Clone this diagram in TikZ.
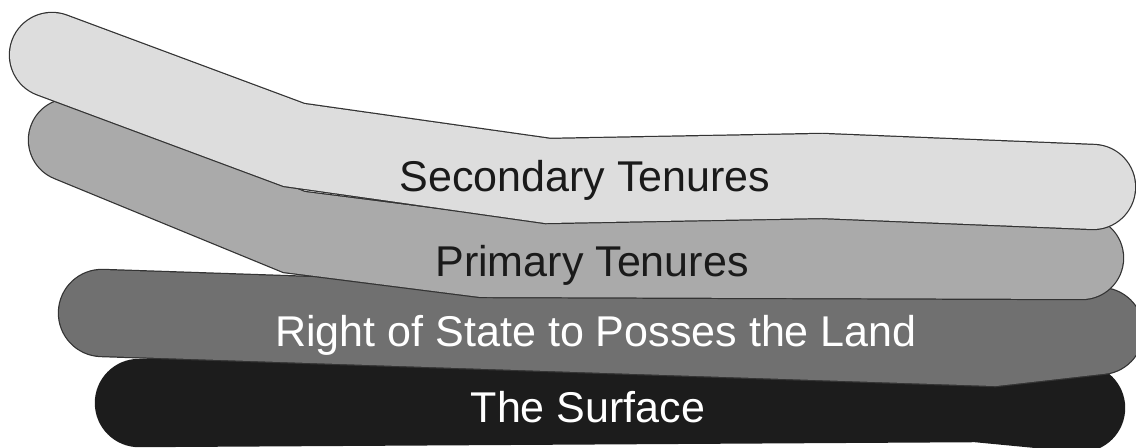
\documentclass[tikz,border=0pt]{standalone}
\usepackage{fontspec}
\setmainfont{Liberation Sans}

\definecolor{secgray}{HTML}{DDDDDD}
\definecolor{primgray}{HTML}{AAAAAA}
\definecolor{stategray}{HTML}{707070}
\definecolor{surfgray}{HTML}{1C1C1C}
\definecolor{edgegray}{HTML}{333333}
\definecolor{textgray}{HTML}{1A1A1A}

\begin{document}
\begin{tikzpicture}[x=0.02cm,y=-0.02cm,
    band/.style={line width=0.7pt, line cap=round, line join=miter, double distance=#1},
    bandtext/.style={font=\fontsize{24.5}{28}\selectfont, anchor=base}]
            \useasboundingbox (0,0) rectangle (1136,448);
            \clip (0,0) rectangle (1136,448);
            % centre lines of the bands
            \coordinate (surf-l) at (139,403);
            \coordinate (surf-k) at (977,398);
            \coordinate (surf-r) at (1081,408);
            \coordinate (state-l) at (102,313);
            \coordinate (state-k) at (994,343);
            \coordinate (state-r) at (1100,331);
            \coordinate (prim-l) at (70,140);
            \coordinate (prim-k1) at (294,232);
            \coordinate (prim-k2) at (483,256);
            \coordinate (prim-r) at (1082,258);
            \coordinate (sec-l) at (52,55);
            \coordinate (sec-k1) at (294,145);
            \coordinate (sec-k2) at (548,181);
            \coordinate (sec-k3) at (822,176);
            \coordinate (sec-r) at (1093,187);
            % bottom band first, top band last
            \draw[band=1.72cm, draw=surfgray, double=surfgray] (surf-l) -- (surf-k) -- (surf-r);
            \draw[band=1.72cm, draw=edgegray, double=stategray] (state-l) -- (state-k) -- (state-r);
            \draw[band=1.64cm, draw=edgegray, double=primgray] (prim-l) -- (prim-k1) -- (prim-k2) -- (prim-r);
            \draw[band=1.68cm, draw=edgegray, double=secgray] (sec-l) -- (sec-k1) -- (sec-k2) -- (sec-k3) -- (sec-r);
            \node[bandtext, text=textgray] (sec) at (585,192) {Secondary Tenures};
            \node[bandtext, text=textgray] (prim) at (592,277) {Primary Tenures};
            \node[bandtext, text=white] (state) at (596,347) {Right of State to Posses the Land};
            \node[bandtext, text=white] (surf) at (588,423) {The Surface};
        \end{tikzpicture}
\end{document}
